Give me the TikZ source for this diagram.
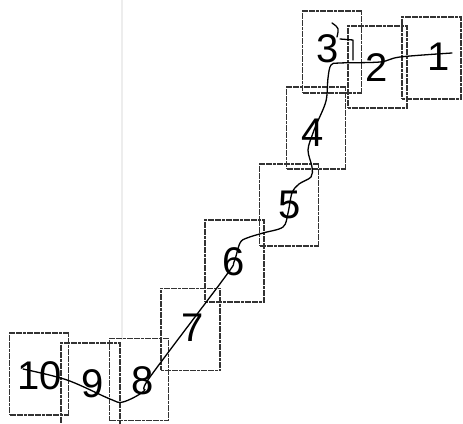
\documentclass[tikz,border=0pt]{standalone}
\usepackage{fontspec}
\setmainfont{Liberation Sans}
\usepackage{tikz}

\tikzset{
    sheet/.style={draw, black!80, line width=1.4pt, dash pattern=on 3pt off 0.6pt, minimum width=59pt, minimum height=82pt, inner sep=0pt},
    num/.style={font=\fontsize{40}{40}\selectfont, inner sep=0pt},
    wire/.style={line width=1.3pt, line cap=round, line join=round}
}

\begin{document}
\begin{tikzpicture}[x=1pt, y=1pt]
    \useasboundingbox (0,0) rectangle (463,423);
    \draw[black!7, line width=1.5pt] (122,423) -- (122,83);

    % the sheets
    \node[sheet] (b1) at (431.5,365) {};
    \node[sheet] (b2) at (377.5,356) {};
    \node[sheet] (b3) at (332,371) {};
    \node[sheet] (b4) at (316,295) {};
    \node[sheet] (b5) at (289,218) {};
    \node[sheet] (b6) at (234.5,162) {};
    \node[sheet] (b7) at (190.5,93.5) {};
    \node[sheet] (b8) at (139,43.5) {};
    \node[sheet] (b9) at (90.5,39) {};
    \node[sheet] (b10) at (39,49) {};

    % the numbers
    \node[num] (l1) at (439,366) {1};
    \node[num] (l2) at (377,355) {2};
    \node[num] (l3) at (328,374) {3};
    \node[num] (l4) at (313,290) {4};
    \node[num] (l5) at (290,218) {5};
    \node[num] (l6) at (234,161) {6};
    \node[num] (l7) at (193,95) {7};
    \node[num] (l8) at (143,42) {8};
    \node[num] (l9) at (93,39) {9};
    \node[num] (l10) at (40,47) {10};

    \coordinate (w1) at ([xshift=13pt,yshift=4pt]l1.center);
    \coordinate (w10) at ([xshift=-17pt,yshift=7pt]l10.center);

    \draw[wire] plot[smooth, tension=0.55] coordinates {(w1) (400,366) (380,361) (340,360) (331,358)
        (328,345) (326,322) (317,300) (l4) (308,273) (312,256) (311,246) (299,239) (292,230)
        (288,210) (283,196) (263,190) (247,185) (240,180) (l6) (225,146) (150,46) (144,32)
        (123,21) (110,24) (67,43) (w10)};
    \draw[wire] (332,400) .. controls (339,395) .. (337,386);
    \draw[wire] (340,384) -- (353,383) -- (353,363);
\end{tikzpicture}
\end{document}
